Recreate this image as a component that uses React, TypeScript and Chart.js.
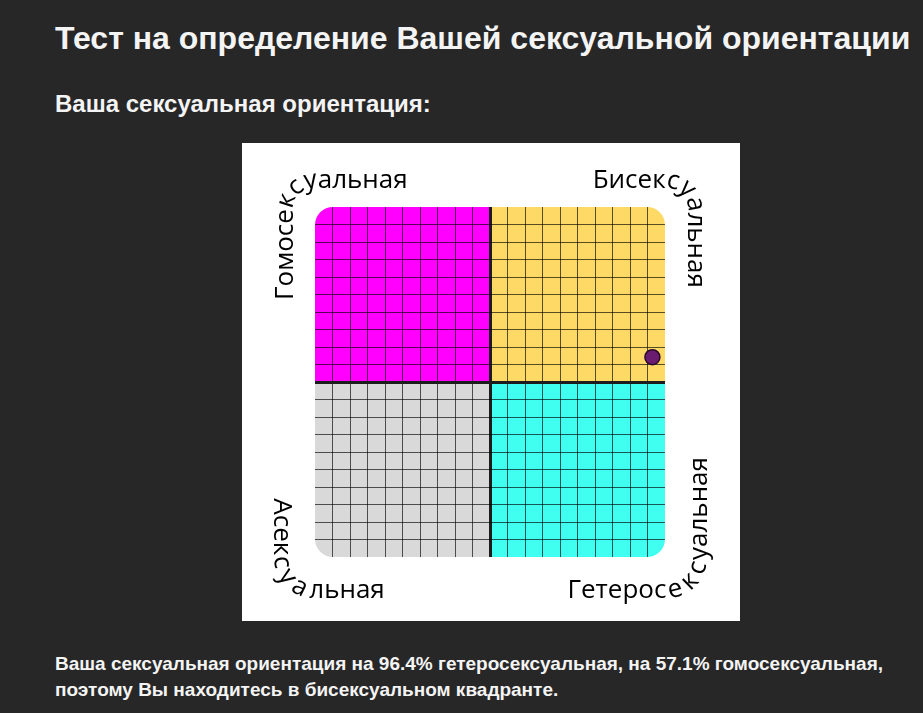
import React, { useEffect, useRef } from "react";
import { Chart, registerables } from "chart.js";

Chart.register(...registerables);

// ---------- data ----------
const heteroPercent = [96.4];
const homoPercent = [57.1];
const axisMin = 0;
const axisMax = 100;
const gridStep = 5;
const axisMid = 50;

const titleText = "Тест на определение Вашей сексуальной ориентации";
const subtitleText = "Ваша сексуальная ориентация:";
const resultPrefix = "Ваша сексуальная ориентация на ";
const resultMid = " гетеросексуальная, на ";
const resultSuffix = " гомосексуальная,";
const resultLine2 = "поэтому Вы находитесь в бисексуальном квадранте.";

// quadrant labels: top-left, top-right, bottom-left, bottom-right
const quadrantLabels = ["Гомосексуальная", "Бисексуальная", "Асексуальная", "Гетеросексуальная"];
const labelPivotChar = [7, 6, 5, 8];

// ---------- styles ----------
const quadrantColors = ["#ff00ff", "#ffd966", "#d9d9d9", "#40fff0"];
const labelCorners = ["tl", "tr", "bl", "br"];
const labelDirections = [1, 1, -1, -1];
const labelPivotShift = [2, 0, -5, 0];
const labelAdvanceRadius = [23, 23, 27, 27];
const labelFontSize = 26;
const labelFont = `${labelFontSize}px "Open Sans", "Noto Sans", sans-serif`;

type Pt = { x: number; y: number; a: number };
type Seg = { len: number; at: (t: number) => Pt };

function lineSeg(xa: number, ya: number, xb: number, yb: number): Seg {
  const len = Math.hypot(xb - xa, yb - ya);
  const a = Math.atan2(yb - ya, xb - xa);
  return {
    len,
    at: (t) => ({ x: xa + ((xb - xa) * t) / len, y: ya + ((yb - ya) * t) / len, a }),
  };
}
// arc drawn at radius r, text advance measured at radius rAdv
function arcSeg(cx: number, cy: number, r: number, rAdv: number, a0: number): Seg {
  return {
    len: (rAdv * Math.PI) / 2,
    at: (t) => {
      const ang = a0 + t / rAdv;
      return { x: cx + r * Math.cos(ang), y: cy + r * Math.sin(ang), a: ang + Math.PI / 2 };
    },
  };
}
function ringPath(x0: number, y0: number, x1: number, y1: number, r: number, rAdv: number) {
  const segs: Seg[] = [
    lineSeg(x0 + r, y0, x1 - r, y0),
    arcSeg(x1 - r, y0 + r, r, rAdv, -Math.PI / 2),
    lineSeg(x1, y0 + r, x1, y1 - r),
    arcSeg(x1 - r, y1 - r, r, rAdv, 0),
    lineSeg(x1 - r, y1, x0 + r, y1),
    arcSeg(x0 + r, y1 - r, r, rAdv, Math.PI / 2),
    lineSeg(x0, y1 - r, x0, y0 + r),
    arcSeg(x0 + r, y0 + r, r, rAdv, Math.PI),
  ];
  const total = segs.reduce((s, g) => s + g.len, 0);
  const starts: number[] = [];
  let acc = 0;
  segs.forEach((g) => {
    starts.push(acc);
    acc += g.len;
  });
  const mids: Record<string, number> = {
    tr: starts[1] + segs[1].len / 2,
    br: starts[3] + segs[3].len / 2,
    bl: starts[5] + segs[5].len / 2,
    tl: starts[7] + segs[7].len / 2,
  };
  const pointAt = (s: number): Pt => {
    let v = ((s % total) + total) % total;
    for (const g of segs) {
      if (v <= g.len) return g.at(v);
      v -= g.len;
    }
    return segs[0].at(0);
  };
  return { pointAt, mids };
}

function roundedRectPath(ctx: CanvasRenderingContext2D, x: number, y: number, w: number, h: number, r: number) {
  ctx.beginPath();
  ctx.moveTo(x + r, y);
  ctx.lineTo(x + w - r, y);
  ctx.arcTo(x + w, y, x + w, y + r, r);
  ctx.lineTo(x + w, y + h - r);
  ctx.arcTo(x + w, y + h, x + w - r, y + h, r);
  ctx.lineTo(x + r, y + h);
  ctx.arcTo(x, y + h, x, y + h - r, r);
  ctx.lineTo(x, y + r);
  ctx.arcTo(x, y, x + r, y, r);
  ctx.closePath();
}

const quadrantPlugin = {
  id: "quadrants",
  beforeDraw(chart: any) {
    const { ctx, chartArea } = chart;
    const { left, top, right, bottom } = chartArea;
    const mx = chart.scales.x.getPixelForValue(axisMid);
    const my = chart.scales.y.getPixelForValue(axisMid);
    ctx.save();
    ctx.fillStyle = "#ffffff";
    ctx.fillRect(0, 0, chart.width, chart.height);
    roundedRectPath(ctx, left, top, right - left, bottom - top, 18);
    ctx.clip();
    ctx.fillStyle = quadrantColors[0];
    ctx.fillRect(left, top, mx - left, my - top);
    ctx.fillStyle = quadrantColors[1];
    ctx.fillRect(mx, top, right - mx, my - top);
    ctx.fillStyle = quadrantColors[2];
    ctx.fillRect(left, my, mx - left, bottom - my);
    ctx.fillStyle = quadrantColors[3];
    ctx.fillRect(mx, my, right - mx, bottom - my);
    // clip stays active while the grid is drawn; restored before datasets
  },
  beforeDatasetsDraw(chart: any) {
    chart.ctx.restore();
  },
  afterDatasetsDraw(chart: any) {
    const { ctx, chartArea } = chart;
    const { left, top, right, bottom } = chartArea;
    const capH = labelFontSize * 0.714;
    ctx.save();
    ctx.font = labelFont;
    ctx.fillStyle = "#000000";
    ctx.textAlign = "center";
    ctx.textBaseline = "alphabetic";
    quadrantLabels.forEach((label, li) => {
      const ring = ringPath(left - 31.5, top - 28.5, right + 32.5, bottom + 32, 31, labelAdvanceRadius[li]);
      const chars = Array.from(label);
      const widths = chars.map((c) => ctx.measureText(c).width);
      const prefix: number[] = [];
      let acc = 0;
      widths.forEach((w) => {
        prefix.push(acc);
        acc += w;
      });
      const p = labelPivotChar[li];
      const pivotPos = prefix[p] + widths[p] / 2 - labelPivotShift[li];
      const dir = labelDirections[li];
      const mid = ring.mids[labelCorners[li]];
      chars.forEach((c, i) => {
        const d = prefix[i] + widths[i] / 2 - pivotPos;
        const pt = ring.pointAt(mid + dir * d);
        const ang = pt.a + (dir < 0 ? Math.PI : 0);
        ctx.save();
        ctx.translate(pt.x, pt.y);
        ctx.rotate(ang);
        ctx.fillText(c, 0, capH / 2);
        ctx.restore();
      });
    });
    ctx.restore();
  },
};

function gridColor(v: number) {
  if (v === axisMin || v === axisMax) return "rgba(0,0,0,0)";
  if (v === axisMid) return "#1c1c1c";
  return "rgba(0,0,0,0.65)";
}
function gridWidth(v: number) {
  return v === axisMid ? 3 : 1;
}

export default function App() {
  const canvasRef = useRef<HTMLCanvasElement>(null);

  useEffect(() => {
    const points = heteroPercent.map((x, i) => ({ x, y: homoPercent[i] }));
    const chart = new Chart(canvasRef.current as HTMLCanvasElement, {
      type: "scatter",
      data: {
        datasets: [
          {
            data: points,
            pointRadius: 7.5,
            pointHoverRadius: 7.5,
            pointBackgroundColor: "#6a1c70",
            pointBorderColor: "#2a0a2c",
            pointBorderWidth: 1.5,
          },
        ],
      },
      options: {
        responsive: false,
        animation: false,
        events: [],
        devicePixelRatio: 1,
        layout: { padding: { left: 73, right: 75, top: 64, bottom: 64 } },
        plugins: {
          legend: { display: false },
          tooltip: { enabled: false },
          title: { display: false },
        },
        scales: {
          x: {
            type: "linear",
            min: axisMin,
            max: axisMax,
            ticks: { display: false, stepSize: gridStep },
            grid: {
              drawTicks: false,
              color: (c: any) => gridColor(c.tick.value),
              lineWidth: (c: any) => gridWidth(c.tick.value),
            },
            border: { display: false },
          },
          y: {
            type: "linear",
            min: axisMin,
            max: axisMax,
            ticks: { display: false, stepSize: gridStep },
            grid: {
              drawTicks: false,
              color: (c: any) => gridColor(c.tick.value),
              lineWidth: (c: any) => gridWidth(c.tick.value),
            },
            border: { display: false },
          },
        },
      },
      plugins: [quadrantPlugin],
    } as any);
    return () => chart.destroy();
  }, []);

  const textFont = '"Liberation Sans", Arial, sans-serif';

  return (
    <div style={{ position: "fixed", inset: 0, background: "#272727", overflow: "hidden" }}>
      <div
        style={{
          position: "absolute",
          left: 55,
          top: 20,
          fontFamily: textFont,
          fontWeight: 700,
          fontSize: 32,
          lineHeight: "37px",
          color: "#f4f4f4",
          whiteSpace: "nowrap",
        }}
      >
        {titleText}
      </div>
      <div
        style={{
          position: "absolute",
          left: 55,
          top: 90,
          fontFamily: textFont,
          fontWeight: 700,
          fontSize: 24,
          lineHeight: "28px",
          color: "#f4f4f4",
          whiteSpace: "nowrap",
        }}
      >
        {subtitleText}
      </div>
      <div style={{ position: "absolute", left: 242, top: 143, width: 498, height: 478, background: "#ffffff" }}>
        <canvas ref={canvasRef} width={498} height={478} style={{ display: "block", width: 498, height: 478 }} />
      </div>
      <div
        style={{
          position: "absolute",
          left: 55,
          top: 651,
          fontFamily: textFont,
          fontWeight: 700,
          fontSize: 19,
          lineHeight: "26px",
          color: "#f4f4f4",
          whiteSpace: "nowrap",
        }}
      >
        <div>
          {resultPrefix}
          <span style={{ fontWeight: 900 }}>{heteroPercent[0]}%</span>
          {resultMid}
          <span style={{ fontWeight: 900 }}>{homoPercent[0]}%</span>
          {resultSuffix}
        </div>
        <div>{resultLine2}</div>
      </div>
    </div>
  );
}
